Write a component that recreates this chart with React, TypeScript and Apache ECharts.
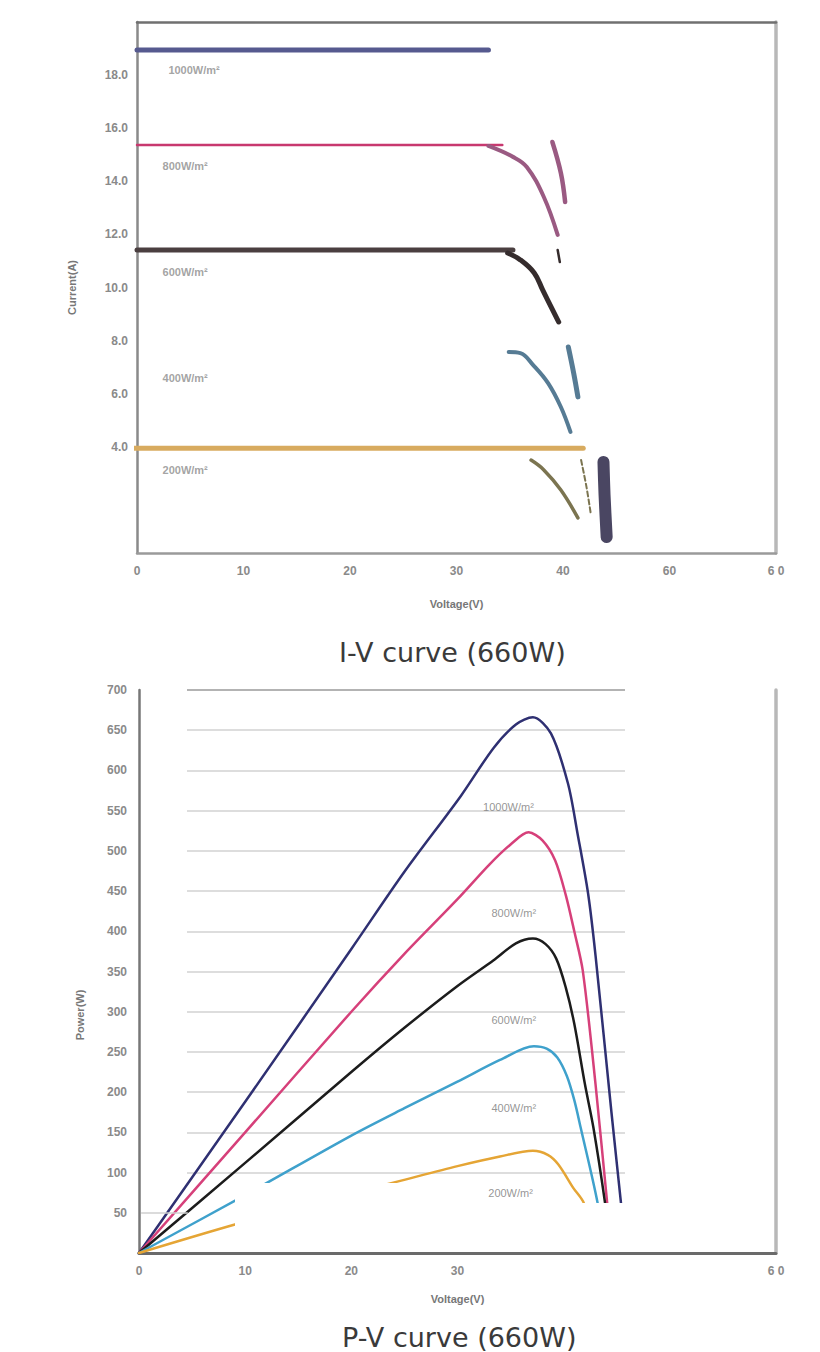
import React, { useEffect, useRef } from 'react';
import * as echarts from 'echarts';

// ---------- I-V chart data ----------
const ivYTicks = [4, 6, 8, 10, 12, 14, 16, 18];
const ivXTickLabels = ['0', '10', '20', '30', '40', '60', '6 0'];
const iv1000Flat = [[0, 18.95], [33.0, 18.95]];
const iv800Flat = [[0, 15.37], [34.3, 15.37]];
const iv800Knee = [[33.0, 15.33], [35.3, 14.92], [36.6, 14.54], [38.2, 13.41], [39.5, 11.98]];
const iv800Frag = [[39.0, 15.48], [39.8, 14.31], [40.2, 13.22]];
const iv600Flat = [[0, 11.41], [35.3, 11.41]];
const iv600Knee = [[34.8, 11.3], [36.0, 11.04], [37.3, 10.55], [38.1, 9.9], [39.6, 8.7]];
const iv600Frag = [[39.5, 11.41], [39.7, 10.96]];
const iv400Knee = [[34.9, 7.57], [36.0, 7.53], [37.2, 7.08], [38.6, 6.4], [39.8, 5.5], [40.7, 4.56]];
const iv400Frag = [[40.5, 7.76], [41.0, 6.78], [41.4, 5.88]];
const iv200Flat = [[-1.6, 3.95], [41.9, 3.95]];
const iv200Knee = [[37.0, 3.5], [38.2, 3.13], [39.8, 2.37], [41.4, 1.32]];
const iv200Frag = [[41.7, 3.5], [42.2, 2.5], [42.6, 1.5]];
const ivVocBlock = [[43.8, 3.43], [43.9, 2.2], [44.1, 0.6]];
const ivLabels = [
  { name: '1000W/m²', value: [2.9, 18.19] },
  { name: '800W/m²', value: [2.35, 14.58] },
  { name: '600W/m²', value: [2.35, 10.58] },
  { name: '400W/m²', value: [2.35, 6.59] },
  { name: '200W/m²', value: [2.35, 3.13] },
];

// ---------- P-V chart data ----------
const pvXTickLabels = ['0', '10', '20', '30', '', '', '6 0'];
const pv1000 = [[0, 0], [10, 188], [20, 378], [25, 474], [30.3, 568], [33.4, 628], [35.5, 657], [37.1, 666], [38.8, 646], [40.4, 584], [41.3, 522], [42.3, 447], [43, 370], [44.5, 175], [45.4, 62], [45.7, 25]];
const pv800 = [[0, 0], [10, 150], [20, 300], [25, 372], [30, 440], [33, 483], [35, 508], [36.7, 523], [38, 513], [39.2, 488], [40.2, 445], [41, 400], [41.8, 351], [43, 210], [44.1, 62], [44.4, 25]];
const pv600 = [[0, 0], [10, 112], [20, 225], [25, 280], [30, 332], [33.4, 364], [35.5, 385], [37.1, 391], [38.3, 384], [39.3, 366], [40.2, 330], [41, 285], [42, 210], [42.8, 156], [43.9, 62], [44.2, 25]];
const pv400 = [[0, 0], [10, 72], [20, 146], [25, 180], [30, 213], [34, 240], [37.2, 257], [38.4, 254], [39.4, 243], [40.3, 220], [41, 190], [41.6, 156], [43.2, 62], [43.5, 25]];
const pv200 = [[0, 0], [9.2, 36], [15, 56], [20, 74], [24.7, 90], [30, 108], [34, 120], [37.1, 127], [38.5, 122], [39.5, 110], [40.9, 81], [41.9, 62], [42.3, 30]];
const pvLabels = [
  { name: '1000W/m²', value: [34.8, 555] },
  { name: '800W/m²', value: [35.3, 423] },
  { name: '600W/m²', value: [35.3, 290] },
  { name: '400W/m²', value: [35.3, 180] },
  { name: '200W/m²', value: [35.0, 75] },
];

const tickFont = { color: '#8a8a8a', fontSize: 12, fontWeight: 'bold' as const, fontFamily: 'Liberation Sans, Arial, sans-serif' };

function lineS(data: number[][], color: string, width: number, xi: number, yi: number, smooth: number | boolean = false, extra: any = {}) {
  return {
    type: 'line', data, xAxisIndex: xi, yAxisIndex: yi, showSymbol: false, smooth, silent: true,
    lineStyle: { color, width, cap: 'round', join: 'round', ...(extra.lineStyle || {}) },
    ...(extra.rest || {}),
  };
}

export default function App() {
  const ref = useRef<HTMLDivElement>(null);
  useEffect(() => {
    if (!ref.current) return;
    const chart = echarts.init(ref.current, null, { renderer: 'svg' });
    const splitColors = ['transparent', 'transparent'];
    for (let i = 2; i < 14; i++) splitColors.push('#d2d2d2');
    splitColors.push('#9a9a9a');

    chart.setOption({
      animation: false,
      backgroundColor: '#ffffff',
      textStyle: { fontFamily: 'Liberation Sans, Arial, sans-serif' },
      grid: [
        { left: 137, top: 22, width: 639, height: 531 },
        { left: 139, top: 690, width: 637, height: 563 },
        { left: 187, top: 690, width: 438, height: 563 },
      ],
      xAxis: [
        {
          gridIndex: 0, type: 'value', min: 0, max: 60, interval: 10, position: 'bottom',
          axisLine: { onZero: false, lineStyle: { color: '#9a9a9a', width: 2.5 } }, axisTick: { show: false }, splitLine: { show: false },
          axisLabel: { ...tickFont, margin: 12, formatter: (v: number) => ivXTickLabels[Math.round(v / 10)] ?? '' },
          name: 'Voltage(V)', nameLocation: 'middle', nameGap: 45,
          nameTextStyle: { color: '#777', fontSize: 11, fontWeight: 'bold' },
        },
        {
          gridIndex: 0, type: 'value', min: 0, max: 60, position: 'top',
          axisLine: { onZero: false, lineStyle: { color: '#707070', width: 2.5 } }, axisTick: { show: false }, axisLabel: { show: false }, splitLine: { show: false },
        },
        {
          gridIndex: 1, type: 'value', min: 0, max: 60, interval: 10, position: 'bottom',
          axisLine: { onZero: false, lineStyle: { color: '#6a6a6a', width: 3 } }, axisTick: { show: false }, splitLine: { show: false },
          axisLabel: { ...tickFont, margin: 12, formatter: (v: number) => pvXTickLabels[Math.round(v / 10)] ?? '' },
          name: 'Voltage(V)', nameLocation: 'middle', nameGap: 40,
          nameTextStyle: { color: '#777', fontSize: 11, fontWeight: 'bold' },
        },
        { gridIndex: 2, type: 'value', min: 0, max: 1, show: false },
      ],
      yAxis: [
        {
          gridIndex: 0, type: 'value', min: 0, max: 20, interval: 2, position: 'left',
          axisLine: { show: true, onZero: false, lineStyle: { color: '#8a8a8a', width: 2.5 } }, axisTick: { show: false }, splitLine: { show: false },
          axisLabel: { ...tickFont, margin: 9, formatter: (v: number) => (ivYTicks.includes(v) ? v.toFixed(1) : '') },
          name: 'Current(A)', nameLocation: 'middle', nameGap: 60,
          nameTextStyle: { color: '#777', fontSize: 11, fontWeight: 'bold' },
        },
        {
          gridIndex: 0, type: 'value', min: 0, max: 20, position: 'right',
          axisLine: { show: true, onZero: false, lineStyle: { color: '#b8b8b8', width: 3.5 } }, axisTick: { show: false }, axisLabel: { show: false }, splitLine: { show: false },
        },
        {
          gridIndex: 1, type: 'value', min: 0, max: 700, interval: 50, position: 'left',
          axisLine: { show: true, onZero: false, lineStyle: { color: '#777', width: 2.5 } }, axisTick: { show: false }, splitLine: { show: false },
          axisLabel: { ...tickFont, margin: 12, formatter: (v: number) => (v === 0 ? '' : String(v)) },
        },
        {
          gridIndex: 1, type: 'value', min: 0, max: 700, position: 'right',
          axisLine: { show: true, onZero: false, lineStyle: { color: '#b8b8b8', width: 3.5 } }, axisTick: { show: false }, axisLabel: { show: false }, splitLine: { show: false },
        },
        {
          gridIndex: 2, type: 'value', min: 0, max: 700, interval: 50,
          axisLine: { show: false }, axisTick: { show: false }, axisLabel: { show: false },
          splitLine: { show: true, lineStyle: { color: splitColors, width: 1.5 } },
        },
      ],
      series: [
        // I-V
        lineS(iv1000Flat, '#565a8f', 5, 0, 0),
        lineS(iv800Flat, '#c8386f', 2.5, 0, 0),
        lineS(iv800Knee, '#9a5a82', 4, 0, 0, 0.4),
        lineS(iv800Frag, '#9a5a82', 4.5, 0, 0, 0.4),
        lineS(iv600Flat, '#4a3f40', 5, 0, 0),
        lineS(iv600Knee, '#352c2d', 5, 0, 0, 0.4),
        lineS(iv600Frag, '#352c2d', 2.5, 0, 0),
        lineS(iv400Knee, '#567b94', 4, 0, 0, 0.4),
        lineS(iv400Frag, '#567b94', 5, 0, 0, 0.4),
        lineS(iv200Flat, '#d8ab5f', 5, 0, 0, false, { rest: { clip: false } }),
        lineS(iv200Knee, '#7b7450', 3.5, 0, 0, 0.4),
        lineS(iv200Frag, '#7b7450', 2, 0, 0, 0.3, { lineStyle: { type: [5, 3] } }),
        lineS(ivVocBlock, '#4a4662', 12, 0, 0, 0.3),
        {
          type: 'scatter', xAxisIndex: 0, yAxisIndex: 0, data: ivLabels, symbolSize: 1, silent: true,
          itemStyle: { color: 'transparent' },
          label: { show: true, position: 'right', distance: 0, formatter: '{b}', color: '#8c8c8c', fontSize: 11, fontWeight: 'bold' },
        },
        // P-V
        lineS(pv1000, '#2f3072', 2.5, 2, 2, 0.3),
        lineS(pv800, '#d6407a', 2.5, 2, 2, 0.3),
        lineS(pv600, '#1c1c1c', 2.5, 2, 2, 0.3),
        lineS(pv400, '#3fa1cc', 2.5, 2, 2, 0.3),
        lineS(pv200, '#e5a535', 2.5, 2, 2, 0.3),
        {
          type: 'line', xAxisIndex: 2, yAxisIndex: 2, data: [], silent: true,
          markLine: {
            silent: true, symbol: 'none', label: { show: false },
            lineStyle: { color: '#cfcfcf', width: 1.5, type: 'solid' },
            data: [[{ coord: [0.2, 50] }, { coord: [4.6, 50] }]],
          },
        },
        {
          type: 'scatter', xAxisIndex: 2, yAxisIndex: 2, data: pvLabels, symbolSize: 1, silent: true,
          itemStyle: { color: 'transparent' },
          label: { show: true, position: 'inside', formatter: '{b}', color: '#7a7a7a', fontSize: 11 },
        },
      ],
      graphic: [
        { type: 'rect', z: 100, shape: { x: 235, y: 1183, width: 163, height: 68 }, style: { fill: '#ffffff' } },
        { type: 'rect', z: 100, shape: { x: 398, y: 1203, width: 234, height: 48 }, style: { fill: '#ffffff' } },
        {
          type: 'text', z: 101, x: 80, y: 1015, rotation: Math.PI / 2,
          style: { text: 'Power(W)', fill: '#777', font: 'bold 11px Liberation Sans, Arial, sans-serif', textAlign: 'center', textVerticalAlign: 'middle' },
        },
        {
          type: 'text', z: 101, x: 339, y: 652,
          style: { text: 'I-V curve (660W)', fill: '#3a3a3a', font: '27px DejaVu Sans, sans-serif', textAlign: 'left', textVerticalAlign: 'middle' },
        },
        {
          type: 'text', z: 101, x: 342, y: 1337,
          style: { text: 'P-V curve (660W)', fill: '#3a3a3a', font: '27px DejaVu Sans, sans-serif', textAlign: 'left', textVerticalAlign: 'middle' },
        },
      ],
    });
    return () => chart.dispose();
  }, []);
  return <div ref={ref} style={{ position: 'absolute', left: 0, top: 0, width: 820, height: 1352 }} />;
}
